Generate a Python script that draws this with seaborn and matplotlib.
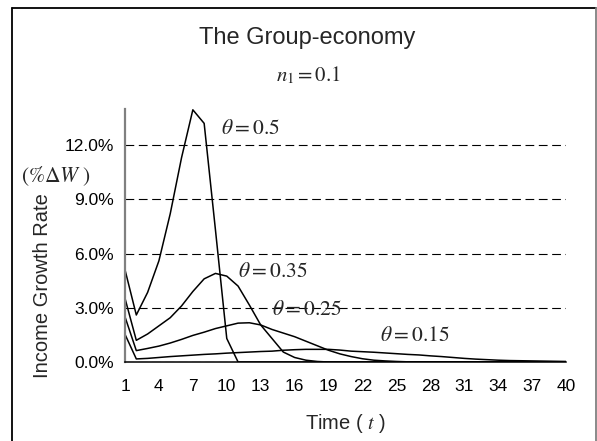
import matplotlib
matplotlib.use('Agg')
import matplotlib.pyplot as plt
import seaborn as sns
import pandas as pd
from matplotlib.lines import Line2D
from matplotlib.ticker import FuncFormatter

# Periodos e taxas de crescimento (%)
periods = list(range(1, 41))
theta_labels = ['0.5', '0.35', '0.25', '0.15']

growth_050 = [5.1, 2.6, 3.85, 5.6, 8.2, 11.3, 13.95, 13.2, 7.3, 1.3,
              0.0, 0.0, 0.0, 0.0, 0.0, 0.0, 0.0, 0.0, 0.0, 0.0,
              0.0, 0.0, 0.0, 0.0, 0.0, 0.0, 0.0, 0.0, 0.0, 0.0,
              0.0, 0.0, 0.0, 0.0, 0.0, 0.0, 0.0, 0.0, 0.0, 0.0]
growth_035 = [3.52, 1.2, 1.55, 2.0, 2.45, 3.1, 3.9, 4.6, 4.9, 4.75,
              4.2, 3.15, 2.05, 1.3, 0.55, 0.25, 0.1, 0.03, 0.0, 0.0,
              0.0, 0.0, 0.0, 0.0, 0.0, 0.0, 0.0, 0.0, 0.0, 0.0,
              0.0, 0.0, 0.0, 0.0, 0.0, 0.0, 0.0, 0.0, 0.0, 0.0]
growth_025 = [2.5, 0.63, 0.75, 0.88, 1.05, 1.25, 1.47, 1.65, 1.85, 2.0,
              2.15, 2.17, 2.05, 1.8, 1.6, 1.4, 1.15, 0.9, 0.65, 0.45,
              0.3, 0.18, 0.1, 0.06, 0.03, 0.01, 0.0, 0.0, 0.0, 0.0,
              0.0, 0.0, 0.0, 0.0, 0.0, 0.0, 0.0, 0.0, 0.0, 0.0]
growth_015 = [1.53, 0.17, 0.2, 0.25, 0.3, 0.34, 0.38, 0.42, 0.45, 0.49,
              0.52, 0.55, 0.58, 0.6, 0.65, 0.68, 0.7, 0.7, 0.7, 0.66,
              0.6, 0.57, 0.54, 0.5, 0.46, 0.42, 0.39, 0.34, 0.3, 0.25,
              0.2, 0.16, 0.13, 0.1, 0.08, 0.07, 0.06, 0.05, 0.04, 0.03]

x_ticks = list(range(1, 41, 3))
y_ticks = [0, 3, 6, 9, 12]

df = pd.concat([
    pd.DataFrame({'t': periods, 'rate': vals, 'theta': lab})
    for lab, vals in zip(theta_labels,
                         [growth_050, growth_035, growth_025, growth_015])
])

sns.set_style('white')
plt.rcParams['font.family'] = ['Liberation Sans', 'DejaVu Sans']
plt.rcParams['mathtext.fontset'] = 'stix'
plt.rcParams['lines.scale_dashes'] = False

W, H = 597, 441
fig = plt.figure(figsize=(W / 100, H / 100), dpi=100)
ax = fig.add_axes([125 / W, 1 - 362 / H, (566 - 125) / W, (362 - 108.9) / H])

sns.lineplot(data=df, x='t', y='rate', hue='theta',
             palette=['black'] * 4, legend=False, linewidth=1.1, ax=ax)

ax.set_xlim(1, 40)
ax.set_ylim(0, 14)
ax.set_xticks(x_ticks)
ax.set_yticks(y_ticks)
ax.yaxis.set_major_formatter(FuncFormatter(lambda v, p: f'{v:.1f}%'))
ax.yaxis.grid(True, linestyle=(0, (6.3, 3.3)), color='black', linewidth=0.8)
ax.set_axisbelow(True)

for s in ['top', 'right']:
    ax.spines[s].set_visible(False)
ax.spines['left'].set_color('#808080')
ax.spines['left'].set_linewidth(1.6)
ax.spines['bottom'].set_color('black')
ax.spines['bottom'].set_linewidth(1.1)

ax.tick_params(axis='both', direction='out', length=4, width=1,
               labelsize=12.5, colors='black')
ax.tick_params(axis='y', pad=4)
ax.tick_params(axis='x', pad=8)

ax.set_ylabel('')
ax.set_xlabel('Time ( $t$ )', fontsize=14.5, labelpad=13)

# Rótulos das curvas
ax.text(12.05, 12.94, r'$\theta = 0.5$', fontsize=15.5, ha='center', va='center')
ax.text(14.1, 4.98, r'$\theta = 0.35$', fontsize=15.5, ha='center', va='center')
ax.text(17.1, 2.9, r'$\theta = 0.25$', fontsize=15.5, ha='center', va='center')
ax.text(26.6, 1.49, r'$\theta = 0.15$', fontsize=15.5, ha='center', va='center')

# Textos da figura
fig.text(306.7 / W, 1 - 38 / H, 'The Group-economy', fontsize=17,
         ha='center', va='center')
fig.text(308 / W, 1 - 75 / H, r'$n_1 = 0.1$', fontsize=15,
         ha='center', va='center')
fig.text(56 / W, 1 - 176 / H, r'$(\%\Delta W\ )$', fontsize=15.5,
         ha='center', va='center')
fig.text(43 / W, 1 - 286 / H, 'Income Growth Rate', fontsize=14.5,
         rotation=90, ha='center', va='center')

# Moldura externa
fig.add_artist(Line2D([12 / W, 595.5 / W], [1 - 8 / H, 1 - 8 / H],
                      color='black', linewidth=1.3))
fig.add_artist(Line2D([12 / W, 12 / W], [0, 1 - 8 / H],
                      color='black', linewidth=1.3))
fig.add_artist(Line2D([595.5 / W, 595.5 / W], [0, 1 - 8 / H],
                      color='#808080', linewidth=1.3))

fig.savefig('out.png', dpi=100)
